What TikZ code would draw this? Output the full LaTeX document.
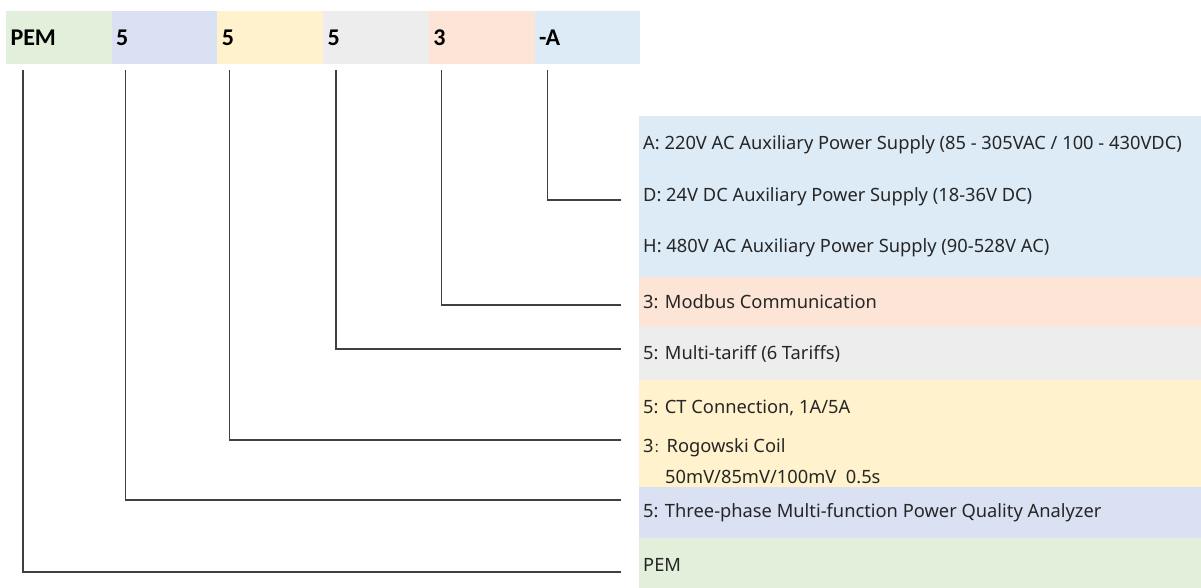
\documentclass[tikz,border=0pt]{standalone}
\usepackage{fontspec}
\setmainfont{Noto Sans}
\newfontfamily\barfont{Carlito}
\newfontfamily\cjk{Noto Sans CJK SC}
\usetikzlibrary{positioning}

\definecolor{cPem}{HTML}{E2EFDA}
\definecolor{cType}{HTML}{DAE1F3}
\definecolor{cCur}{HTML}{FFF2CC}
\definecolor{cTar}{HTML}{EDEDED}
\definecolor{cCom}{HTML}{FCE4D6}
\definecolor{cAux}{HTML}{DDEBF7}

\begin{document}
\begin{tikzpicture}[
      x=1pt, y=-1pt,
      seg/.style  = {rectangle, minimum height=53pt, text width=96.7pt, inner xsep=4.5pt,
                     inner ysep=0pt, outer sep=0pt, align=left,
                     font=\barfont\bfseries\fontsize{24}{27}\selectfont},
      band/.style = {rectangle, anchor=north west, minimum width=562pt, inner sep=0pt, outer sep=0pt},
      txt/.style  = {anchor=west, inner sep=0pt, text=black!85, font=\fontsize{18.3}{21}\selectfont},
      conn/.style = {draw=black!75, line width=1.3pt},
    ]
    \useasboundingbox (0,0) rectangle (1201,588);

    % code bar
    \node[seg, fill=cPem, anchor=north west] (sPem) at (6,11) {PEM};
    \node[seg, fill=cType, right=0pt of sPem] (sType) {5};
    \node[seg, fill=cCur,  right=0pt of sType] (sCur) {5};
    \node[seg, fill=cTar,  right=0pt of sCur]  (sTar) {5};
    \node[seg, fill=cCom,  right=0pt of sTar]  (sCom) {3};
    \node[seg, fill=cAux,  right=0pt of sCom]  (sAux) {-A};

    % legend bands
    \node[band, fill=cAux,  minimum height=161pt] (bAux)  at (639,116) {};
    \node[band, fill=cCom,  minimum height=50pt]  (bCom)  at (639,277) {};
    \node[band, fill=cTar,  minimum height=53pt]  (bTar)  at (639,327) {};
    \node[band, fill=cCur,  minimum height=107pt] (bCur)  at (639,380) {};
    \node[band, fill=cType, minimum height=51pt]  (bType) at (639,487) {};
    \node[band, fill=cPem,  minimum height=50pt]  (bPem)  at (639,538) {};

    \node[txt] (tA)     at (643,145) {A: 220V AC Auxiliary Power Supply (85 - 305VAC / 100 - 430VDC)};
    \node[txt] (tD)     at (643,197) {D: 24V DC Auxiliary Power Supply (18-36V DC)};
    \node[txt] (tH)     at (643,248) {H: 480V AC Auxiliary Power Supply (90-528V AC)};
    \node[txt] (tMod)   at (643,302) {3: Modbus Communication};
    \node[txt] (tTar)   at (643,354) {5: Multi-tariff (6 Tariffs)};
    \node[txt] (tCT)    at (643,408) {5: CT Connection, 1A/5A};
    \node[txt] (tRog)   at (643,448) {3{\cjk\fontsize{13}{13}\selectfont ：}Rogowski Coil};
    \node[txt] (tRogv)  at (665,477) {50mV/85mV/100mV\ \ 0.5s};
    \node[txt] (tThree) at (643,513) {5: Three-phase Multi-function Power Quality Analyzer};
    \node[txt] (tPem)   at (643,565) {PEM};

    % connectors
    \coordinate (eAux)  at (621,200);
    \coordinate (eCom)  at (621,305);
    \coordinate (eTar)  at (621,349);
    \coordinate (eCur)  at (621,440);
    \coordinate (eType) at (621,500);
    \coordinate (ePem)  at (621,572);
    \draw[conn] ([shift={(17,6)}]sPem.south west)  |- (ePem);
    \draw[conn] ([shift={(14,6)}]sType.south west) |- (eType);
    \draw[conn] ([shift={(12,6)}]sCur.south west)  |- (eCur);
    \draw[conn] ([shift={(13,6)}]sTar.south west)  |- (eTar);
    \draw[conn] ([shift={(13,6)}]sCom.south west)  |- (eCom);
    \draw[conn] ([shift={(13,6)}]sAux.south west)  |- (eAux);
  \end{tikzpicture}
\end{document}
